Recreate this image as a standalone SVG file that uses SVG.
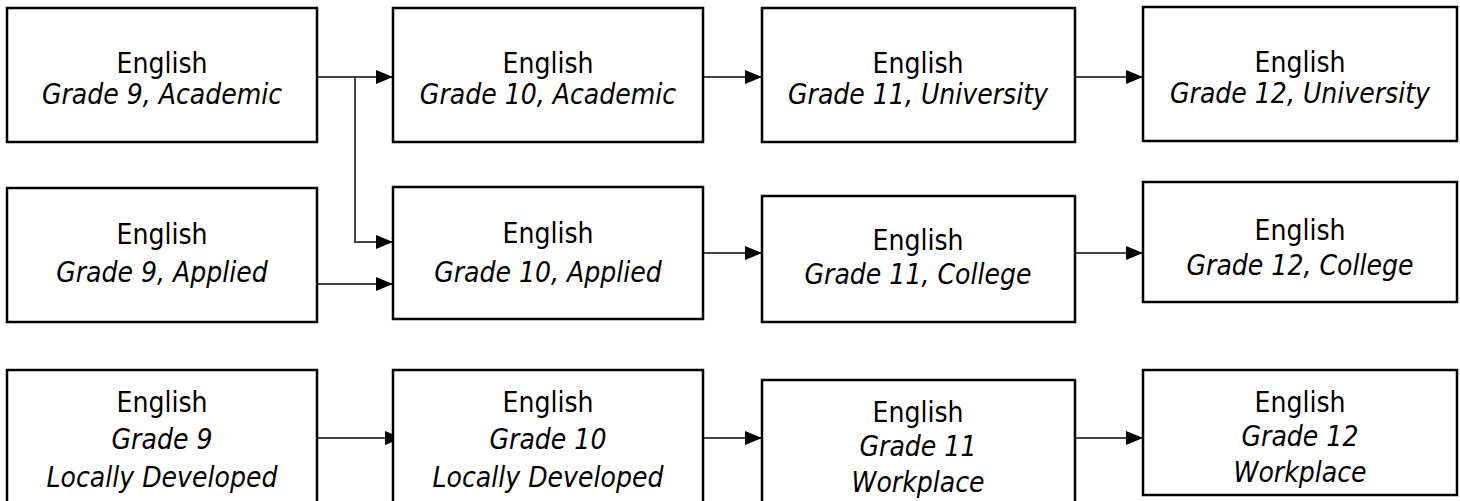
<svg xmlns="http://www.w3.org/2000/svg" width="1460" height="501" viewBox="0 0 1460 501">
<style>
.box{fill:#fff;stroke:#000;stroke-width:2.5}
.t{font-family:"DejaVu Sans Condensed","DejaVu Sans",sans-serif;font-stretch:condensed;font-size:28px;fill:#000;text-anchor:middle}
.i{font-style:italic}
.c{fill:none;stroke:#444;stroke-width:2}
</style>
<defs>
<marker id="ah" markerUnits="userSpaceOnUse" markerWidth="17" markerHeight="14" refX="17" refY="7" orient="auto">
<path d="M0,0 L17,7 L0,14 z" fill="#000"/>
</marker>
</defs>
<rect width="1460" height="501" fill="#fff"/>
<g id="connectors">
<path class="c" d="M317,77 H393" marker-end="url(#ah)"/>
<path class="c" d="M355,77 V242 H393" marker-end="url(#ah)"/>
<path class="c" d="M317,284 H393" marker-end="url(#ah)"/>
<path class="c" d="M703,77 H762" marker-end="url(#ah)"/>
<path class="c" d="M1075,77 H1143" marker-end="url(#ah)"/>
<path class="c" d="M703,253 H762" marker-end="url(#ah)"/>
<path class="c" d="M1075,253 H1143" marker-end="url(#ah)"/>
<path class="c" d="M317,438 H402" marker-end="url(#ah)"/>
<path class="c" d="M703,438 H762" marker-end="url(#ah)"/>
<path class="c" d="M1075,438 H1143" marker-end="url(#ah)"/>
</g>
<g id="a1"><rect class="box" x="7" y="8" width="310" height="134"/><text class="t" x="162" y="73">English</text><text class="t i" x="162" y="104">Grade 9, Academic</text></g>
<g id="a2"><rect class="box" x="393" y="8" width="310" height="134"/><text class="t" x="548" y="73">English</text><text class="t i" x="548" y="104">Grade 10, Academic</text></g>
<g id="a3"><rect class="box" x="762" y="8" width="313" height="134"/><text class="t" x="918" y="73">English</text><text class="t i" x="918" y="104">Grade 11, University</text></g>
<g id="a4"><rect class="box" x="1143" y="7" width="314" height="134"/><text class="t" x="1300" y="72">English</text><text class="t i" x="1300" y="103">Grade 12, University</text></g>
<g id="b1"><rect class="box" x="7" y="188" width="310" height="134"/><text class="t" x="162" y="244">English</text><text class="t i" x="162" y="282">Grade 9, Applied</text></g>
<g id="b2"><rect class="box" x="393" y="187" width="310" height="132"/><text class="t" x="548" y="243">English</text><text class="t i" x="548" y="282">Grade 10, Applied</text></g>
<g id="b3"><rect class="box" x="762" y="196" width="313" height="126"/><text class="t" x="918" y="250">English</text><text class="t i" x="918" y="284">Grade 11, College</text></g>
<g id="b4"><rect class="box" x="1143" y="182" width="314" height="120"/><text class="t" x="1300" y="240">English</text><text class="t i" x="1300" y="275">Grade 12, College</text></g>
<g id="c1"><rect class="box" x="7" y="370" width="310" height="140"/><text class="t" x="162" y="412">English</text><text class="t i" x="162" y="449">Grade 9</text><text class="t i" x="162" y="487">Locally Developed</text></g>
<g id="c2"><rect class="box" x="393" y="370" width="310" height="140"/><text class="t" x="548" y="412">English</text><text class="t i" x="548" y="449">Grade 10</text><text class="t i" x="548" y="487">Locally Developed</text></g>
<g id="c3"><rect class="box" x="762" y="380" width="313" height="130"/><text class="t" x="918" y="422">English</text><text class="t i" x="918" y="456">Grade 11</text><text class="t i" x="918" y="492">Workplace</text></g>
<g id="c4"><rect class="box" x="1143" y="370" width="314" height="125"/><text class="t" x="1300" y="412">English</text><text class="t i" x="1300" y="446">Grade 12</text><text class="t i" x="1300" y="482">Workplace</text></g>
</svg>
